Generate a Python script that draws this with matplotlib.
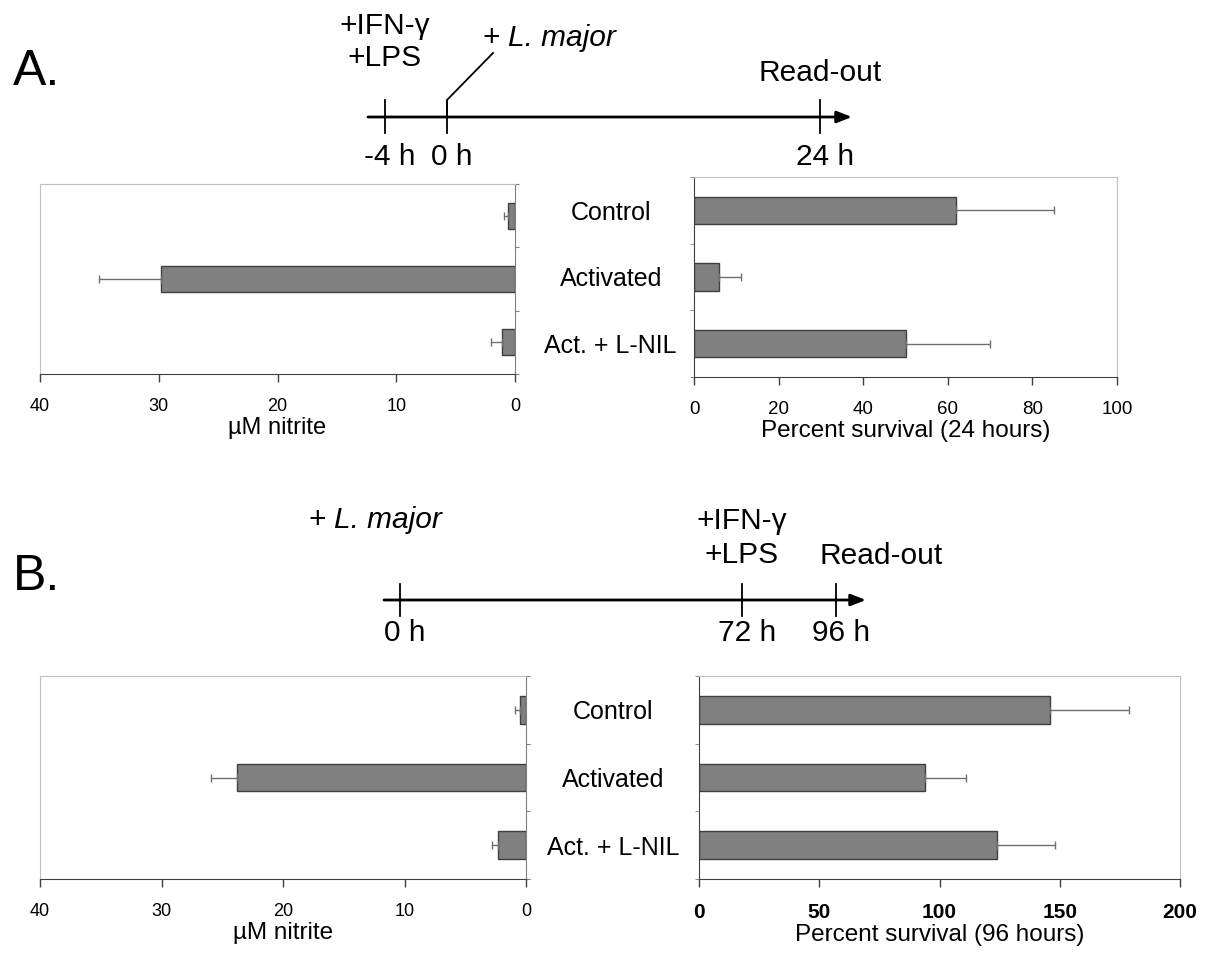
import matplotlib
matplotlib.use("Agg")
from matplotlib import pyplot as plt

# data
categories = ["Control", "Activated", "Act. + L-NIL"]

nitrite_a = [0.6, 29.8, 1.1]
nitrite_a_err = [0.3, 5.2, 0.9]
survival_a = [62, 6, 50]
survival_a_err = [23, 5, 20]

nitrite_b = [0.5, 23.8, 2.3]
nitrite_b_err = [0.4, 2.1, 0.5]
survival_b = [146, 94, 124]
survival_b_err = [33, 17, 24]

# timeline diagrams: (x pixel, tick label)
timeline_a = [(385, "-4 h"), (447, "0 h"), (820, "24 h")]
timeline_b = [(400, "0 h"), (742, "72 h"), (836, "96 h")]

W, H = 1214, 960
plt.rcParams["font.family"] = ["Liberation Sans", "DejaVu Sans"]

fig = plt.figure(figsize=(W / 100, H / 100), dpi=100)
ax0 = fig.add_axes([0, 0, 1, 1])
ax0.set_xlim(0, W)
ax0.set_ylim(H, 0)
ax0.axis("off")

BAR = "#808080"
EDGE = "#404040"
LIGHT = "#c0c0c0"
ERR = dict(ecolor="#707070", elinewidth=1, capsize=3, capthick=1)


def box(px):
    l, r, t, b = px
    return [l / W, (H - b) / H, (r - l) / W, (b - t) / H]


def nitrite_panel(rect, vals, errs, label_fs):
    ax = fig.add_axes(box(rect))
    y = range(len(vals))
    ax.barh(y, vals, height=0.41, color=BAR, edgecolor=EDGE, linewidth=1,
            xerr=[[0] * len(errs), errs], error_kw=ERR)
    ax.set_xlim(40, 0)
    ax.set_ylim(2.5, -0.5)
    ax.set_xticks([40, 30, 20, 10, 0])
    ax.tick_params(axis="x", length=6, width=1, color=EDGE, labelsize=13, pad=11)
    ax.yaxis.tick_right()
    ax.set_yticks([-0.5, 0.5, 1.5, 2.5])
    ax.set_yticklabels([])
    ax.tick_params(axis="y", length=3, color="#808080")
    for s in ["top", "left"]:
        ax.spines[s].set_color(LIGHT)
    ax.spines["bottom"].set_color(EDGE)
    ax.spines["right"].set_color("#808080")
    ax.set_xlabel("µM nitrite", fontsize=label_fs, labelpad=2)
    return ax


def survival_panel(rect, vals, errs, xmax, step, label, label_pad, tick_fs, bold=False):
    ax = fig.add_axes(box(rect))
    y = range(len(vals))
    ax.barh(y, vals, height=0.41, color=BAR, edgecolor=EDGE, linewidth=1,
            xerr=[[0] * len(errs), errs], error_kw=ERR)
    ax.set_xlim(0, xmax)
    ax.set_ylim(2.5, -0.5)
    ax.set_xticks(range(0, xmax + 1, step))
    ax.tick_params(axis="x", length=6, width=1, color=EDGE, labelsize=tick_fs, pad=11)
    ax.set_yticks(list(y))
    ax.set_yticklabels(categories, fontsize=18, ha="center")
    ax.tick_params(axis="y", length=0, pad=label_pad)
    ax.set_yticks([-0.5, 0.5, 1.5, 2.5], minor=True)
    ax.tick_params(axis="y", which="minor", length=3, color="#808080")
    for s in ["top", "right"]:
        ax.spines[s].set_color(LIGHT)
    ax.spines["bottom"].set_color(EDGE)
    ax.spines["left"].set_color(EDGE)
    ax.set_xlabel(label, fontsize=17.5, labelpad=2)
    if bold:
        for t in ax.get_xticklabels():
            t.set_fontweight("bold")
    return ax


nitrite_panel((40, 515, 184, 374), nitrite_a, nitrite_a_err, 17)
survival_panel((694, 1117, 177, 377), survival_a, survival_a_err, 100, 20,
               "Percent survival (24 hours)", 60, 13.5)
nitrite_panel((40, 526, 676, 879), nitrite_b, nitrite_b_err, 17.5)
survival_panel((699, 1180, 676, 879), survival_b, survival_b_err, 200, 50,
               "Percent survival (96 hours)", 62, 15, bold=True)

tfs = 21.5


def timeline(events, y0, x_start, x_end, up, down, lab_dy):
    ax0.annotate("", xy=(x_end, y0), xytext=(x_start, y0),
                 arrowprops=dict(arrowstyle="-|>,head_length=0.9,head_width=0.35", lw=2, color="black",
                                 shrinkA=0, shrinkB=0))
    for x, lab in events:
        ax0.plot([x, x], [y0 - up, y0 + down], color="black", lw=1.3)
        ax0.text(x + 5, y0 + lab_dy, lab, ha="center", va="center", fontsize=tfs)


# A timeline
timeline(timeline_a, 117, 368, 852, 17, 16, 40)
ax0.plot([447, 447, 493], [117, 100, 53], color="black", lw=1.3)
ax0.text(385, 26, "+IFN-γ", ha="center", va="center", fontsize=tfs)
ax0.text(385, 58, "+LPS", ha="center", va="center", fontsize=tfs)
ax0.text(483, 38, "+", ha="left", va="center", fontsize=tfs)
ax0.text(508, 38, "L. major", ha="left", va="center", fontsize=tfs, style="italic")
ax0.text(820, 73, "Read-out", ha="center", va="center", fontsize=tfs)
ax0.text(37, 72, "A.", ha="center", va="center", fontsize=36)

# B timeline
timeline(timeline_b, 600, 384, 866, 16, 16, 33)
ax0.text(309, 520, "+", ha="left", va="center", fontsize=tfs)
ax0.text(334, 520, "L. major", ha="left", va="center", fontsize=tfs, style="italic")
ax0.text(742, 521, "+IFN-γ", ha="center", va="center", fontsize=tfs)
ax0.text(742, 555, "+LPS", ha="center", va="center", fontsize=tfs)
ax0.text(881, 556, "Read-out", ha="center", va="center", fontsize=tfs)
ax0.text(37, 577, "B.", ha="center", va="center", fontsize=36)

plt.savefig("out.png", dpi=100)
